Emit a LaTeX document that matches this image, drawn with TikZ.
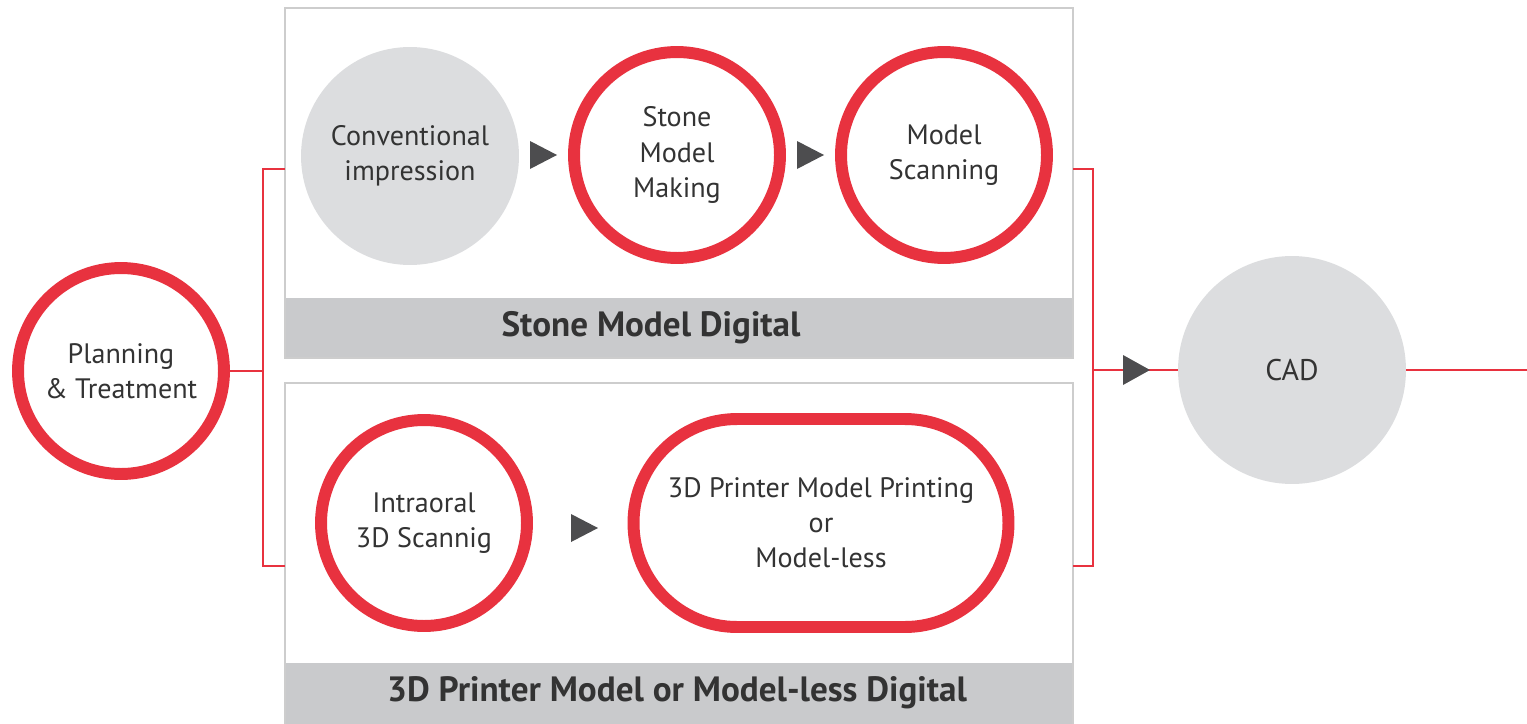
\documentclass[tikz,border=0pt]{standalone}
\usepackage{fontspec}
\setmainfont{PT Sans}
\usetikzlibrary{calc}
\definecolor{cred}{HTML}{E8323F}
\definecolor{cgray}{HTML}{DCDDDF}
\definecolor{cbar}{HTML}{C9CACC}
\definecolor{cborder}{HTML}{CDCDCD}
\definecolor{ctext}{HTML}{333333}
\definecolor{ctri}{HTML}{4D4D4F}
\begin{document}
\begin{tikzpicture}[x=0.02cm,y=-0.02cm,
  ring/.style={circle,draw=cred,line width=6.8pt,minimum size=4.12cm,inner sep=0pt,align=center,font=\fontsize{16}{20}\selectfont,text=ctext},
  grayc/.style={circle,fill=cgray,minimum size=4.36cm,inner sep=0pt,align=center,font=\fontsize{16}{20}\selectfont,text=ctext},
  link/.style={draw=cred,line width=1.2pt},
  tri/.style={fill=ctri},
  panel/.style={draw=cborder,line width=1.2pt},
  bar/.style={fill=cbar},
  bartext/.style={font=\bfseries\fontsize{20}{23}\selectfont,text=ctext}]
\useasboundingbox (0,0) rectangle (1527,723);
\clip (0,0) rectangle (1527,723);
\fill[white] (0,0) rectangle (1527,723);
% panels
\fill[bar] (285,298) rectangle (1073,358);
\draw[panel] (285,8) rectangle (1073,358);
\node[bartext] (lab1) at (651,328) {Stone Model Digital};
\fill[bar] (285,663) rectangle (1073,740);
\draw[panel] (285,383) rectangle (1073,740);
\node[bartext] (lab2) at (677,693) {3D Printer Model or Model-less Digital};
% nodes
\node[ring] (plan) at (121,371) {Planning\\\&~Treatment};
\node[grayc] (conv) at (410,156) {Conventional\\impression};
\node[ring] (stone) at (677,155) {Stone\\Model\\Making};
\node[ring] (scan) at (944,155) {Model\\Scanning};
\node[ring] (intra) at (424,523) {Intraoral\\3D Scannig};
\node[ring,rectangle,rounded corners=2.07cm,minimum width=7.5cm,minimum height=4.16cm] (print) at (821,523) {3D Printer Model Printing\\or\\Model-less};
\node[grayc,minimum size=4.56cm,font=\fontsize{17}{20}\selectfont] (cad) at (1292,370) {CAD};
% triangles
\fill[tri] (530,141) -- (557,155) -- (530,169) -- cycle;
\fill[tri] (797,141) -- (824,155) -- (797,169) -- cycle;
\fill[tri] (571,514) -- (598,528) -- (571,542) -- cycle;
% left bracket
\coordinate (lj) at (263,371);
\coordinate (lt) at (263,169);
\coordinate (lb) at (263,566);
\coordinate (lt2) at (285,169);
\coordinate (lb2) at (285,566);
\draw[link] (plan.east) -- (lj);
\draw[link] (lt2) -- (lt) -- (lb) -- (lb2);
% right bracket
\coordinate (rj) at (1093,370);
\coordinate (rt) at (1093,169);
\coordinate (rb) at (1093,566);
\coordinate (rt2) at (1073,169);
\coordinate (rb2) at (1073,566);
\coordinate (out) at (1527,367);
\draw[link] (rt2) -- (rt) -- (rb) -- (rb2);
\draw[link] (rj) -- (cad.west);
\fill[tri] (1123,355) -- (1150,370) -- (1123,385) -- cycle;
\draw[link] (cad.east) -- (cad.east -| out);
\end{tikzpicture}
\end{document}
